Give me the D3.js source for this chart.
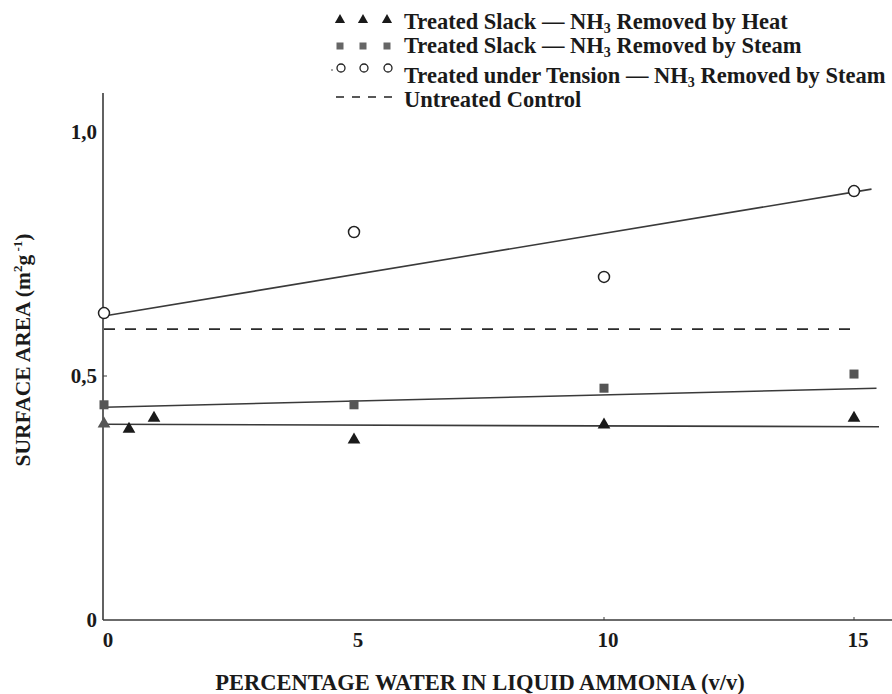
<!DOCTYPE html>
<html>
<head>
<meta charset="utf-8">
<script src="https://cdn.jsdelivr.net/npm/d3@7"></script>
<style>
  body { margin: 0; background: #fff; }
  text { font-family: "Liberation Serif", "Times New Roman", serif; font-weight: bold; fill: #1a1a1a; }
</style>
</head>
<body>
<div id="root"></div>
<script>
// data
const xTicks = [0, 5, 10, 15]
const yTicks = [0, 0.5, 1.0]
const yTickLabels = ["0", "0,5", "1,0"]

const heatX = [0, 0.5, 1, 5, 10, 15]
const heatY = [0.402, 0.391, 0.414, 0.369, 0.400, 0.414]
const steamX = [0, 5, 10, 15]
const steamY = [0.441, 0.441, 0.475, 0.504]
const tensionX = [0, 5, 10, 15]
const tensionY = [0.629, 0.795, 0.703, 0.879]
const controlY = 0.596

// fitted straight lines, [x, y] of both ends
const heatFit = [[0, 0.401], [15.5, 0.396]]
const steamFit = [[0, 0.436], [15.45, 0.475]]
const tensionFit = [[0, 0.623], [15.35, 0.883]]
const controlRange = [0, 15.1]

const width = 892, height = 694
const svg = d3.select("#root").append("svg")
    .attr("width", width)
    .attr("height", height)

const x = d3.scaleLinear().domain([0, 15]).range([104, 854])
const y = d3.scaleLinear().domain([0, 1]).range([620, 132])

const ink = "#3a3a3a"

// axes
svg.append("line")
    .attr("x1", x(0) - 1).attr("x2", x(0) - 1)
    .attr("y1", y(1.08)).attr("y2", y(0))
    .attr("stroke", ink).attr("stroke-width", 1.6)
svg.append("line")
    .attr("x1", x(0) - 1).attr("x2", x(15.76))
    .attr("y1", y(0)).attr("y2", y(0))
    .attr("stroke", ink).attr("stroke-width", 1.6)

// y ticks
svg.selectAll(".ytick").data(yTicks).enter().append("text")
    .attr("class", "ytick")
    .attr("x", 97)
    .attr("y", d => y(d))
    .attr("dy", "0.35em")
    .attr("text-anchor", "end")
    .attr("font-size", 21)
    .text((d, i) => yTickLabels[i])
svg.selectAll(".ytickmark").data([0.5]).enter().append("line")
    .attr("x1", x(0) - 1).attr("x2", x(0) + 3)
    .attr("y1", d => y(d)).attr("y2", d => y(d))
    .attr("stroke", ink).attr("stroke-width", 1)

// x ticks
svg.selectAll(".xtick").data(xTicks).enter().append("text")
    .attr("class", "xtick")
    .attr("x", d => x(d) + 4)
    .attr("y", 647)
    .attr("text-anchor", "middle")
    .attr("font-size", 21)
    .text(d => d)
svg.selectAll(".xtickmark").data([10, 15]).enter().append("line")
    .attr("x1", d => x(d)).attr("x2", d => x(d))
    .attr("y1", y(0)).attr("y2", y(0) - 3)
    .attr("stroke", ink).attr("stroke-width", 1)

// axis titles
svg.append("text")
    .attr("x", 480).attr("y", 690)
    .attr("text-anchor", "middle")
    .attr("font-size", 22.5)
    .text("PERCENTAGE WATER IN LIQUID AMMONIA (v/v)")

const ytitle = svg.append("text")
    .attr("transform", "translate(30,350) rotate(-90)")
    .attr("text-anchor", "middle")
    .attr("font-size", 21.5)
ytitle.append("tspan").text("SURFACE AREA (m")
ytitle.append("tspan").attr("font-size", 13).attr("dy", -8).text("2")
ytitle.append("tspan").attr("dy", 8).text("g")
ytitle.append("tspan").attr("font-size", 13).attr("dy", -8).text(" -1")
ytitle.append("tspan").attr("dy", 8).text(")")

// lines
const line = d3.line().x(d => x(d[0])).y(d => y(d[1]))
;[tensionFit, steamFit, heatFit].forEach(f => {
    svg.append("path")
        .attr("d", line(f))
        .attr("fill", "none")
        .attr("stroke", ink)
        .attr("stroke-width", 1.6)
})
svg.append("path")
    .attr("d", line(controlRange.map(v => [v, controlY])))
    .attr("fill", "none")
    .attr("stroke", "#2a2a2a")
    .attr("stroke-width", 1.6)
    .attr("stroke-dasharray", "11,10")

// markers
const tri = d3.symbol().type(d3.symbolTriangle).size(70)
svg.selectAll(".heat").data(heatX).enter().append("path")
    .attr("class", "heat")
    .attr("d", tri)
    .attr("transform", (d, i) => `translate(${x(d)},${y(heatY[i])})`)
    .attr("fill", (d, i) => i == 0 ? "#555" : "#1a1a1a")

svg.selectAll(".steam").data(steamX).enter().append("rect")
    .attr("class", "steam")
    .attr("x", d => x(d) - 4.5)
    .attr("y", (d, i) => y(steamY[i]) - 4.5)
    .attr("width", 9).attr("height", 9)
    .attr("fill", "#555")

svg.selectAll(".tension").data(tensionX).enter().append("circle")
    .attr("class", "tension")
    .attr("cx", d => x(d))
    .attr("cy", (d, i) => y(tensionY[i]))
    .attr("r", 5.5)
    .attr("fill", "#fff")
    .attr("stroke", "#222")
    .attr("stroke-width", 1.5)

// legend
const legendX = [340, 363, 387]
const legend = [
    {kind: "tri", y: 22, text: ["Treated Slack — NH", "3", " Removed by Heat"]},
    {kind: "sq", y: 46, text: ["Treated Slack — NH", "3", " Removed by Steam"]},
    {kind: "circ", y: 76, text: ["Treated under Tension — NH", "3", " Removed by Steam"]},
    {kind: "dash", y: 100, text: ["Untreated Control"]}
]
legend.forEach(l => {
    const g = svg.append("g")
    if (l.kind == "tri") {
        legendX.forEach(lx => g.append("path").attr("d", d3.symbol().type(d3.symbolTriangle).size(45)())
            .attr("transform", `translate(${lx},${l.y - 2})`).attr("fill", "#1a1a1a"))
    } else if (l.kind == "sq") {
        legendX.forEach(lx => g.append("rect").attr("x", lx - 3.5).attr("y", l.y - 3.5)
            .attr("width", 7).attr("height", 7).attr("fill", "#666"))
    } else if (l.kind == "circ") {
        g.append("circle").attr("cx", 332).attr("cy", l.y - 6).attr("r", 0.8).attr("fill", "#333")
        legendX.forEach(lx => g.append("circle").attr("cx", lx + 1).attr("cy", l.y - 8).attr("r", 4)
            .attr("fill", "none").attr("stroke", "#222").attr("stroke-width", 1.3))
    } else {
        g.append("line").attr("x1", 336).attr("x2", 398).attr("y1", l.y - 3).attr("y2", l.y - 3)
            .attr("stroke", "#222").attr("stroke-width", 1.4).attr("stroke-dasharray", "8,8")
    }
    const t = g.append("text")
        .attr("x", 404)
        .attr("y", l.y + 7)
        .attr("font-size", 22.5)
    l.text.forEach((s, i) => {
        if (i == 1) t.append("tspan").attr("font-size", 14).attr("dy", 4).text(s)
        else t.append("tspan").attr("dy", i == 2 ? -4 : 0).text(s)
    })
})
</script>
</body>
</html>
